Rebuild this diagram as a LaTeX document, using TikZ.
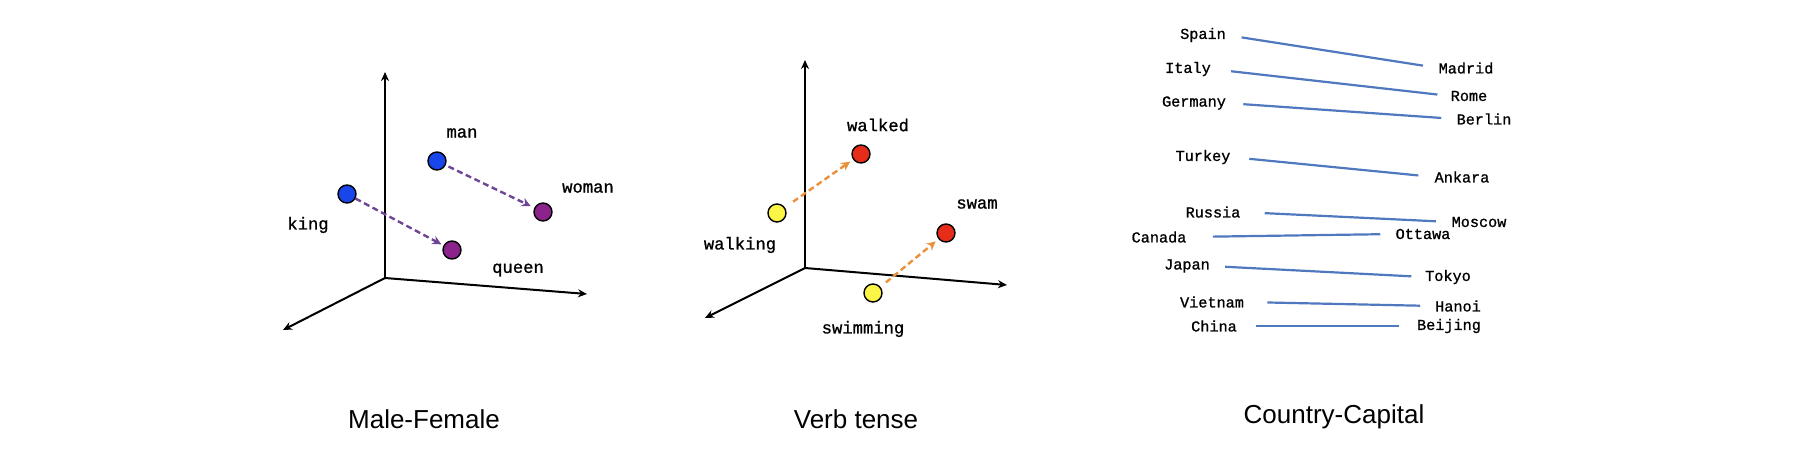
\documentclass[tikz,border=0pt]{standalone}
\usepackage{fontspec}
\setmainfont{Liberation Sans}
\newfontfamily\codefont[FakeBold=1]{Liberation Mono}
\usetikzlibrary{arrows.meta}

\definecolor{dotblue}{RGB}{25,70,235}
\definecolor{dotpurple}{RGB}{140,35,140}
\definecolor{dotyellow}{RGB}{250,245,70}
\definecolor{dotred}{RGB}{230,45,25}
\definecolor{dashpurple}{RGB}{110,70,150}
\definecolor{dashorange}{RGB}{235,145,60}
\definecolor{linkblue}{RGB}{80,120,190}

\begin{document}
\begin{tikzpicture}[x=0.5pt,y=-0.5pt,
  dot/.style={circle,draw=black,line width=0.7pt,minimum size=9pt,inner sep=0pt},
  axis/.style={line width=1pt,-{Stealth[length=4.5pt,width=4pt]}},
  move/.style={dashed,dash pattern=on 3pt off 1.8pt,line width=1.2pt,-{Stealth[length=4.5pt,width=4.5pt]}},
  word/.style={font=\codefont\fontsize{8.6}{10}\selectfont,inner sep=0pt},
  city/.style={font=\codefont\fontsize{7.6}{9}\selectfont,inner sep=0pt},
  link/.style={draw=linkblue,line width=1.1pt},
  title/.style={font=\fontsize{13}{15}\selectfont,anchor=base,inner sep=0pt}]
\useasboundingbox (0,0) rectangle (1800,450);

% Male-Female
\coordinate (o1) at (385,278);
\coordinate (o1up) at (385,72);
\coordinate (o1x) at (587,294);
\coordinate (o1z) at (283,330);
\draw[axis] (o1) -- (o1up);
\draw[axis] (o1) -- (o1x);
\draw[axis] (o1) -- (o1z);
\node[dot,fill=dotblue] (man) at (437,161) {};
\node[dot,fill=dotblue] (king) at (347,194) {};
\node[dot,fill=dotpurple] (woman) at (543,212) {};
\node[dot,fill=dotpurple] (queen) at (452,250) {};
\draw[move,dashpurple,shorten <=1.5pt,shorten >=2pt] (man) -- (woman);
\draw[move,dashpurple,shorten >=1.2pt] (king) -- (queen);
\node[word] (mantext) at (462,133) {man};
\node[word] (womantext) at (588,188) {woman};
\node[word] (kingtext) at (308,225) {king};
\node[word] (queentext) at (518,270) {queen};

% Verb tense
\coordinate (o2) at (805,268);
\coordinate (o2up) at (805,60);
\coordinate (o2x) at (1007,285);
\coordinate (o2z) at (705,318);
\draw[axis] (o2) -- (o2up);
\draw[axis] (o2) -- (o2x);
\draw[axis] (o2) -- (o2z);
\node[dot,fill=dotred] (walked) at (861,154) {};
\node[dot,fill=dotred] (swam) at (946,233) {};
\node[dot,fill=dotyellow] (walking) at (777,213) {};
\node[dot,fill=dotyellow] (swimming) at (873,293) {};
\draw[move,dashorange,shorten <=5pt,shorten >=1.8pt] (walking) -- (walked);
\draw[move,dashorange,shorten <=3.5pt,shorten >=1.8pt] (swimming) -- (swam);
\node[word] (walkedtext) at (878,125) {walked};
\node[word] (swamtext) at (977,204) {swam};
\node[word] (walkingtext) at (740,245) {walking};
\node[word] (swimmingtext) at (863,329) {swimming};

% Country-Capital
\node[city] (spain) at (1203,35) {Spain};
\node[city] (italy) at (1188,69) {Italy};
\node[city] (germany) at (1194,103) {Germany};
\node[city] (turkey) at (1203,157) {Turkey};
\node[city] (russia) at (1213,212) {Russia};
\node[city] (canada) at (1159,237) {Canada};
\node[city] (japan) at (1187,266) {Japan};
\node[city] (vietnam) at (1212,302) {Vietnam};
\node[city] (china) at (1214,326) {China};
\node[city] (madrid) at (1466,68) {Madrid};
\node[city] (rome) at (1469,96) {Rome};
\node[city] (berlin) at (1484,119) {Berlin};
\node[city] (ankara) at (1462,177) {Ankara};
\node[city] (moscow) at (1479,222) {Moscow};
\node[city] (ottawa) at (1423,234) {Ottawa};
\node[city] (tokyo) at (1448,277) {Tokyo};
\node[city] (hanoi) at (1458,306) {Hanoi};
\node[city] (beijing) at (1449,326) {Beijing};
\draw[link,shorten <=7.8pt,shorten >=7.7pt] (spain.east) -- (madrid.west);
\draw[link,shorten <=10pt,shorten >=6.5pt] (italy.east) -- (rome.west);
\draw[link,shorten <=8.5pt,shorten >=7.5pt] (germany.east) -- (berlin.west);
\draw[link,shorten <=9.3pt,shorten >=8pt] (turkey.east) -- (ankara.west);
\draw[link,shorten <=12pt,shorten >=7.7pt] (russia.east) -- (moscow.west);
\draw[link,shorten <=13pt,shorten >=7.5pt] (canada.east) -- (ottawa.west);
\draw[link,shorten <=7.5pt,shorten >=6.7pt] (japan.east) -- (tokyo.west);
\draw[link,shorten <=11.5pt,shorten >=7.3pt] (vietnam.east) -- (hanoi.west);
\draw[link,shorten <=9.3pt,shorten >=9pt] (china.east) -- (beijing.west);

% titles
\node[title] (mf) at (424,428) {Male-Female};
\node[title] (vt) at (856,428) {Verb tense};
\node[title] (cc) at (1334,423) {Country-Capital};
\end{tikzpicture}
\end{document}
